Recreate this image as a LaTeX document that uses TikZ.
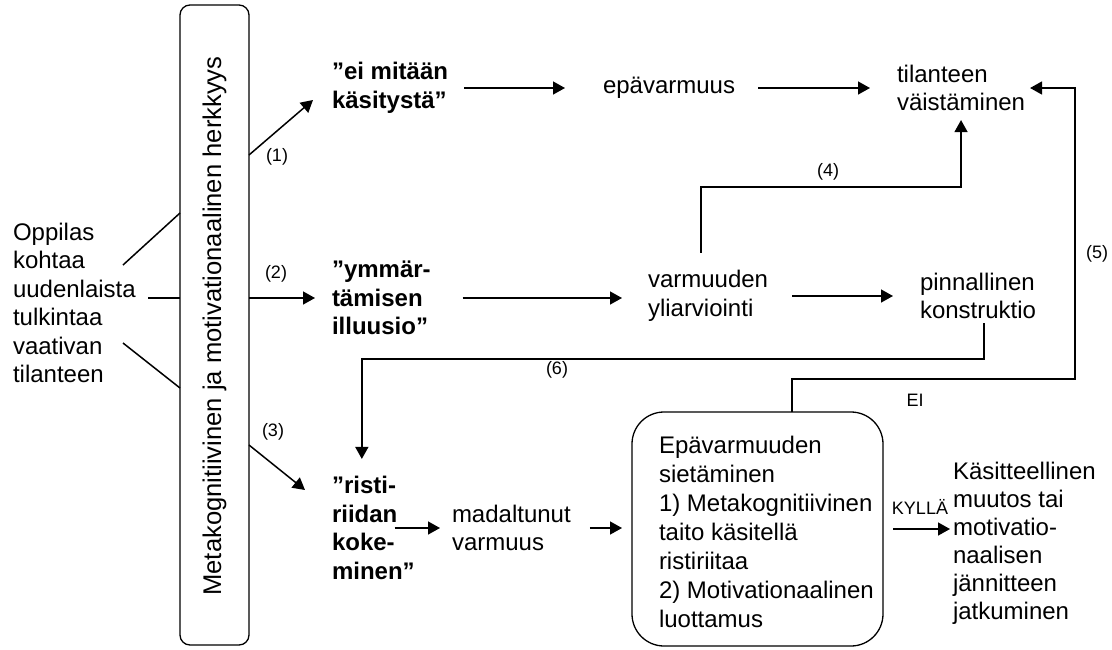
\documentclass[tikz,border=0pt]{standalone}
\usepackage{fontspec}
\setmainfont{Liberation Sans}
\usetikzlibrary{arrows.meta}
\begin{document}
\begin{tikzpicture}[x=1pt,y=-1pt,
  every node/.style={inner sep=0pt,outer sep=0pt},
  txt/.style={font=\fontsize{24}{28.5}\selectfont,align=left,anchor=west},
  btxt/.style={font=\fontsize{24}{28.5}\selectfont\bfseries,align=left,anchor=west},
  lbl/.style={font=\fontsize{18}{20}\selectfont},
  conn/.style={line width=1.5pt},
  arr/.style={conn,-{Triangle[length=12pt,width=13pt]}},
  frame/.style={draw,line width=1.3pt}]
\useasboundingbox (0,0) rectangle (1112,649);

% tall frame with the rotated caption
\node[frame,rounded corners=10pt,minimum width=69pt,minimum height=640pt] (herk) at (214.5,325) {};
\node[rotate=90,font=\fontsize{25.6}{30}\selectfont] (herkt) at (214.5,326) {Metakognitiivinen ja motivationaalinen herkkyys};

% starting situation
\node[txt] (opp) at (13,303) {Oppilas\\kohtaa\\uudenlaista\\tulkintaa\\vaativan\\tilanteen};
\coordinate (o1) at (123,265);
\coordinate (o2) at (148,298);
\coordinate (o3) at (123,343);
\draw[conn] ([yshift=112pt]herk.west) -- (o1);
\draw[conn] ([yshift=27pt]herk.west) -- (o2);
\draw[conn] ([yshift=-63pt]herk.west) -- (o3);

% states
\node[btxt] (eim) at (332,88) {”ei mitään\\käsitystä”};
\node[txt] (epa) at (603,88) {epävarmuus};
\node[txt] (til) at (897,88) {tilanteen\\väistäminen};
\node[btxt] (ymm) at (332,298) {”ymmär-\\tämisen\\illuusio”};
\node[txt] (var) at (648,296) {varmuuden\\yliarviointi};
\node[txt] (pin) at (920,296) {pinnallinen\\konstruktio};
\node[btxt] (ris) at (332,528) {”risti-\\riidan\\koke-\\minen”};
\node[txt] (mad) at (452,528) {madaltunut\\varmuus};
\node[frame,rounded corners=32pt,minimum width=251pt,minimum height=234pt] (ep) at (757.5,529) {};
\node[txt,font=\fontsize{24}{29}\selectfont] (ept) at ([xshift=27pt,yshift=-3pt]ep.west)
  {Epävarmuuden\\sietäminen\\1) Metakognitiivinen\\taito käsitellä\\ristiriitaa\\2) Motivationaalinen\\luottamus};
\node[txt,font=\fontsize{24}{28}\selectfont] (kas) at (953,543)
  {Käsitteellinen\\muutos tai\\motivatio-\\naalisen\\jännitteen\\jatkuminen};

% three routes out of the frame
\draw[arr] ([yshift=170pt]herk.east) -- ([xshift=-19pt,yshift=-12pt]eim.west);
\draw[arr] ([yshift=27pt]herk.east) -- ([xshift=-17pt]ymm.west);
\draw[arr] ([yshift=-120pt]herk.east) -- ([xshift=-27pt,yshift=38pt]ris.west);
\node[lbl] (n1) at (277,157) {(1)};
\node[lbl] (n2) at (276,274) {(2)};
\node[lbl] (n3) at (273,432) {(3)};

% route 1
\draw[arr] ([xshift=16pt]eim.east) -- ([xshift=-38pt]epa.west);
\draw[arr] ([xshift=23pt]epa.east) -- ([xshift=-27pt]til.west);

% route 2
\coordinate (v2) at (var.west |- ymm.east);
\draw[arr] ([xshift=32pt]ymm.east) -- ([xshift=-26pt]v2);
\draw[arr] ([xshift=24pt]var.east) -- ([xshift=-27pt]pin.west);
\draw[arr] ([xshift=-7pt,yshift=18pt]var.north) |- ([yshift=-76pt]til.south) -- ([yshift=-9pt]til.south);
\node[lbl] (n4) at (828,172) {(4)};
\draw[arr] ([xshift=6pt,yshift=-4pt]pin.south) |- ([xshift=-11.5pt,yshift=117.5pt]ris.north) -- ([xshift=-11.5pt,yshift=17.5pt]ris.north);
\node[lbl] (n6) at (557,370) {(6)};

% route 3
\coordinate (m1) at (mad.west |- ris.east);
\draw[arr] ([xshift=-20pt]ris.east) -- ([xshift=-12pt]m1);
\coordinate (m2) at (ep.west |- mad.east);
\draw[arr] ([xshift=19pt]mad.east) -- ([xshift=-10pt]m2);

% outcomes of tolerance
\coordinate (c5) at (1075,379);
\draw[arr] ([xshift=34.5pt]ep.north) |- (c5) |- ([xshift=5pt]til.east);
\node[lbl] (n5) at (1097,254) {(5)};
\node[lbl] (ei) at (915,400) {EI};
\coordinate (k2) at (kas.west |- ep.east);
\draw[arr] ([xshift=10pt]ep.east) -- ([xshift=-3pt]k2);
\node[lbl] (ky) at (920,507) {KYLLÄ};
\end{tikzpicture}
\end{document}
